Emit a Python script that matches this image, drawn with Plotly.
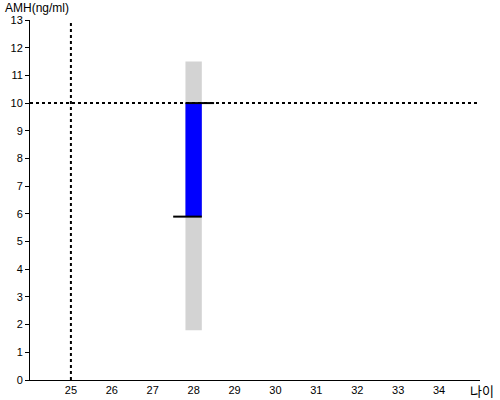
import plotly.graph_objects as go

# data
AGE = [28]
RANGE_LOW = [1.8]
RANGE_HIGH = [11.5]
IQR_LOW = [5.9]
IQR_HIGH = [10.0]
REF_AGE = 25
REF_AMH = 10
X_TICKS = list(range(25, 35))
Y_TICKS = list(range(0, 14))

FONT = "Liberation Sans, Arial, sans-serif"

fig = go.Figure()

# grey full range
fig.add_trace(go.Bar(
    x=AGE, y=[h - l for h, l in zip(RANGE_HIGH, RANGE_LOW)], base=RANGE_LOW,
    width=0.4, marker_color='#D3D3D3', marker_line_width=0, hoverinfo='skip',
))
# blue box
fig.add_trace(go.Bar(
    x=AGE, y=[h - l for h, l in zip(IQR_HIGH, IQR_LOW)], base=IQR_LOW,
    width=0.4, marker_color='#0000FF', marker_line_width=0,
))

# black caps: top one sticks out right, bottom one left
for a, hi in zip(AGE, IQR_HIGH):
    fig.add_trace(go.Scatter(x=[a - 0.2, a + 0.5], y=[hi, hi], mode='lines',
                             line=dict(color='black', width=2), hoverinfo='skip'))
for a, lo in zip(AGE, IQR_LOW):
    fig.add_trace(go.Scatter(x=[a - 0.5, a + 0.2], y=[lo, lo], mode='lines',
                             line=dict(color='black', width=2), hoverinfo='skip'))

fig.add_vline(x=REF_AGE, line_dash='dot', line_color='black', line_width=2)
fig.add_hline(y=REF_AMH, line_dash='dot', line_color='black', line_width=2)

fig.update_layout(
    width=500, height=400,
    margin=dict(l=30, r=20, t=20, b=20, autoexpand=False),
    paper_bgcolor='white', plot_bgcolor='white',
    barmode='overlay', showlegend=False,
    font=dict(family=FONT, size=11, color='black'),
    annotations=[
        dict(text='AMH(ng/ml)', xref='paper', yref='paper', x=-0.058, y=1.0,
             xanchor='left', yanchor='bottom', showarrow=False, yshift=4,
             borderpad=0, font=dict(size=12, family=FONT)),
        dict(text='나이', xref='paper', yref='paper', x=0.976, y=-0.003,
             xanchor='left', yanchor='top', showarrow=False, yshift=1,
             borderpad=0, font=dict(size=13, family='Noto Sans CJK KR')),
    ],
)
fig.update_xaxes(range=[24, 35], tickvals=X_TICKS, showline=True, linecolor='black',
                 linewidth=1, showgrid=False, zeroline=False, ticks='', automargin=False)
fig.update_yaxes(range=[0, 13], tickvals=Y_TICKS, showline=True, linecolor='black',
                 linewidth=1, showgrid=False, zeroline=False, ticks='outside',
                 ticklen=4, tickcolor='black', automargin=False)

# page body has an 8px default margin; drop it so the chart sits at 0,0
fig.write_html("out.html", config={'displayModeBar': False},
               post_script="document.body.style.margin='0';")
